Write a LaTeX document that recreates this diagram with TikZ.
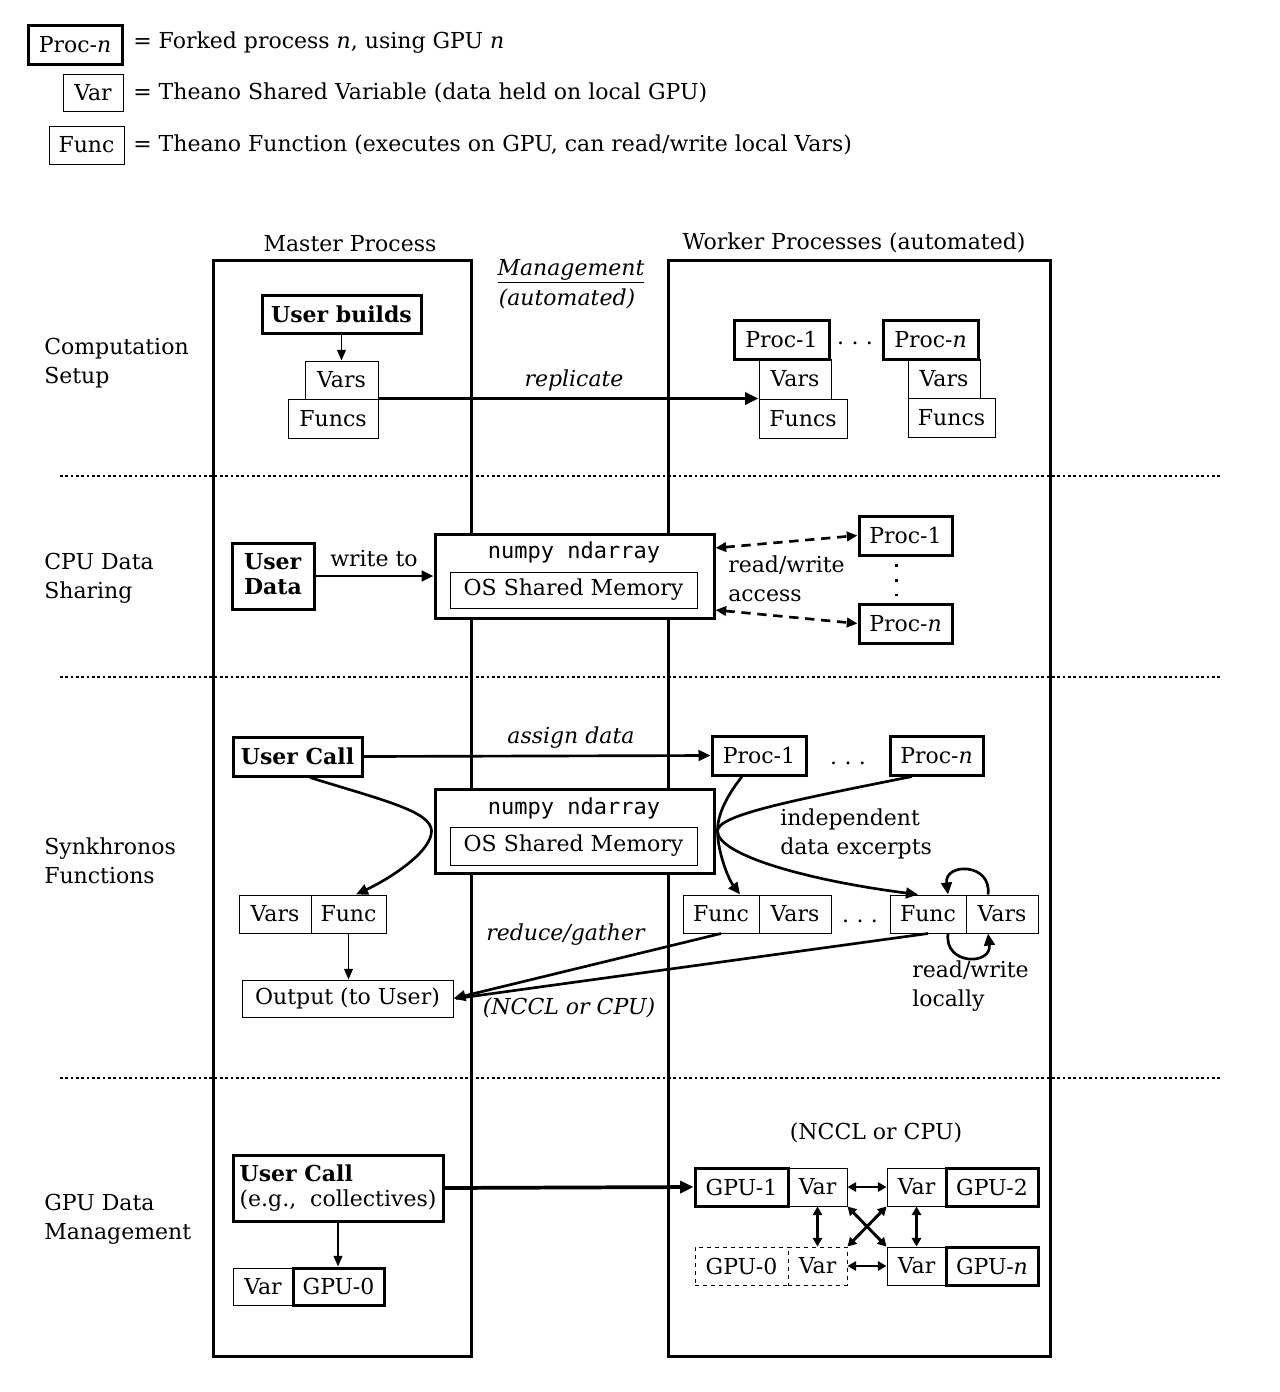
\documentclass[tikz,border=0pt]{standalone}
\usepackage{fontspec}
\setmainfont{DejaVu Serif}
\setmonofont{DejaVu Sans Mono}
\usetikzlibrary{arrows.meta,calc}
\newcommand\mybox[7]{\node[#6, minimum width={(#4-#2)*0.75pt}, minimum height={(#5-#3)*0.75pt}] (#1) at ({(#2+#4)/2},{(#3+#5)/2}) {#7};}
\newcommand\mydots{.\kern5.5pt.\kern5.5pt.}
\begin{document}
\begin{tikzpicture}[x=0.75pt,y=-0.75pt, font=\fontsize{16.5}{21.75}\selectfont,
 thinbox/.style={draw, fill=white, line width=0.75pt, inner sep=0pt},
 thickbox/.style={draw, fill=white, line width=2.25pt, inner sep=0pt},
 dashbox/.style={draw, fill=white, dashed, line width=0.75pt, inner sep=0pt},
 colbox/.style={draw, line width=2.25pt, inner sep=0pt},
 lbl/.style={inner sep=0pt, align=left},
 arr/.style={line width=2pt, -{Triangle[length=9pt,width=8pt]}},
 thinarr/.style={line width=1.4pt, -{Triangle[length=8pt,width=6.5pt]}},
 bigarr/.style={line width=2.8pt, -{Triangle[length=10pt,width=9pt]}},
 dasharr/.style={line width=2pt, dash pattern=on 7pt off 5pt, {Triangle[length=8pt,width=7pt]}-{Triangle[length=8pt,width=7pt]}},
 dblarr/.style={line width=2.2pt, {Triangle[length=6.5pt,width=7pt]}-{Triangle[length=6.5pt,width=7pt]}},
 sep/.style={dotted, line width=2pt}]
\useasboundingbox (0,0) rectangle (1280,1392);

% legend
\mybox{legp}{28}{25}{122}{64}{thickbox}{Proc-\textit{n}}
\node[lbl, anchor=west] (legpt) at (133,43) {= Forked process \textit{n}, using GPU \textit{n}};
\mybox{legv}{63}{74}{123}{111}{thinbox}{Var}
\node[lbl, anchor=west] (legvt) at (133,93) {= Theano Shared Variable (data held on local GPU)};
\mybox{legf}{49}{126}{124}{164}{thinbox}{Func}
\node[lbl, anchor=west] (legft) at (133,145) {= Theano Function (executes on GPU, can read/write local Vars)};

% columns
\mybox{master}{213}{260}{471}{1356}{colbox}{}
\mybox{worker}{668}{260}{1050}{1356}{colbox}{}
\node (mt) at (350,244) {Master Process};
\node (wt) at (854,243) {Worker Processes (automated)};
\node (mg) at (571,271) {\underline{\textit{Management}}};
\node (mg2) at (567,299) {\textit{(automated)}};

% separators
\draw[sep] (60,476) -- (1222,476);
\draw[sep] (60,677) -- (1222,677);
\draw[sep] (60,1078) -- (1222,1078);

% row labels
\node[lbl, anchor=west] (r1) at (44,363) {Computation\\Setup};
\node[lbl, anchor=west] (r2) at (44,578) {CPU Data\\Sharing};
\node[lbl, anchor=west] (r3) at (44,861) {Synkhronos\\Functions};
\node[lbl, anchor=west] (r4) at (44,1219) {GPU Data\\Management};

% ---------- row 1
\mybox{ub}{262}{295}{421}{333}{thickbox}{\textbf{User builds}}
\mybox{v1}{305}{361}{378}{399}{thinbox}{Vars}
\mybox{f1}{288}{399}{378}{438}{thinbox}{Funcs}
\draw[thinarr] (ub.south) -- (v1.north);
\mybox{wv1}{759}{359}{831}{399}{thinbox}{Vars}
\mybox{wf1}{759}{399}{847}{438}{thinbox}{Funcs}
\mybox{wp1}{734}{320}{829}{359}{thickbox}{Proc-1}
\mybox{wvn}{908}{359}{980}{398}{thinbox}{Vars}
\mybox{wfn}{908}{398}{995}{437}{thinbox}{Funcs}
\mybox{wpn}{883}{320}{978}{359}{thickbox}{Proc-\textit{n}}
\node[inner sep=0pt] (d1) at (855,343) {\mydots};
\draw[bigarr] (f1.north east) -- (wf1.north west);
\node (rep) at (574,380) {\textit{replicate}};

% ---------- row 2
\mybox{ud}{232}{543}{314}{609}{thickbox}{\begin{tabular}{@{}l@{}}\textbf{User}\\[-3pt]\textbf{Data}\end{tabular}}
\mybox{nd}{435}{534}{714}{618}{thickbox}{}
\node (ndt) at (574,552) {\texttt{numpy ndarray}};
\mybox{os}{450}{572}{697}{608}{thinbox}{OS Shared Memory}
\draw[arr] (ud.east) -- (nd.west);
\node (wto) at (374,559) {write to};
\mybox{cp1}{859}{516}{952}{555}{thickbox}{Proc-1}
\mybox{cpn}{859}{604}{952}{643}{thickbox}{Proc-\textit{n}}
\draw[line width=2.25pt, dash pattern=on 2.25pt off 9pt] ([xshift=-6.4pt,yshift=-5.5pt]cp1.south) -- ([xshift=-6.4pt,yshift=5pt]cpn.north);
\draw[dasharr] ([yshift=21pt]nd.east) -- (cp1.west);
\draw[dasharr] ([yshift=-25.5pt]nd.east) -- (cpn.west);
\node[lbl, anchor=west] (rwa) at (728,579) {read/write\\access};

% ---------- row 3
\mybox{uc}{233}{737}{362}{776}{thickbox}{\textbf{User Call}}
\mybox{sp1}{712}{736}{806}{775}{thickbox}{Proc-1}
\mybox{spn}{890}{736}{983}{775}{thickbox}{Proc-\textit{n}}
\node[inner sep=0pt] (d2) at (848,763) {\mydots};
\draw[arr] (uc.east) -- (sp1.west);
\node (asg) at (571,738) {\textit{assign data}};
\mybox{nd2}{435}{789}{714}{873}{thickbox}{}
\node (nd2t) at (574,808) {\texttt{numpy ndarray}};
\mybox{os2}{450}{827}{697}{865}{thinbox}{OS Shared Memory}
\mybox{lv}{239}{895}{311}{933}{thinbox}{Vars}
\mybox{lf}{311}{895}{386}{933}{thinbox}{Func}
\mybox{out}{242}{980}{453}{1017}{thinbox}{Output (to User)}
\draw[thinarr] (lf.south) -- (lf.south |- out.north);
\mybox{rf1}{683}{895}{759}{933}{thinbox}{Func}
\mybox{rv1}{759}{895}{831}{933}{thinbox}{Vars}
\node[inner sep=0pt] (d3) at (860,921) {\mydots};
\mybox{rf2}{890}{895}{966}{933}{thinbox}{Func}
\mybox{rv2}{966}{895}{1038}{933}{thinbox}{Vars}
% curves
\draw[arr] ([xshift=9.4pt]uc.south) .. controls +(70,22) and +(0,-20) .. ([xshift=-1.5pt]nd2.west)
  .. controls +(0,22) and +(30,-14) .. ([xshift=5.6pt]lf.north);
\draw[arr] ([xshift=-12.75pt]sp1.south) .. controls +(-14,18) and +(0,-18) .. ([xshift=1.5pt]nd2.east)
  .. controls +(0,20) and +(-12,-16) .. ([xshift=14.25pt]rf1.north);
\draw[arr] ([xshift=-18.4pt]spn.south) .. controls +(-120,24) and +(0,-16) .. ([xshift=1.5pt]nd2.east)
  .. controls +(0,24) and +(-110,-14) .. ([xshift=-7.5pt]rf2.north);
\node[lbl, anchor=west] (ide) at (780,834) {independent\\data excerpts};
\draw[arr] ([xshift=-10.5pt]rv2.north) .. controls +(4,-32) and +(-4,-32) .. ([xshift=15pt]rf2.north);
\draw[arr] ([xshift=15pt]rf2.south) .. controls +(-4,32) and +(4,32) .. ([xshift=-10.5pt]rv2.south);
\node[lbl, anchor=west] (rwl) at (912,986) {read/write\\locally};
\draw[line width=2pt] (rf2.south) -- ([xshift=2pt]out.east);
\draw[arr] (rf1.south) -- (out.east);
\node (rg) at (566,935) {\textit{reduce/gather}};
\node (nc1) at (569,1008) {\textit{(NCCL or CPU)}};

% ---------- row 4
\mybox{uc2}{233}{1155}{443}{1221}{thickbox}{\begin{tabular}{@{}l@{}}\textbf{User Call}\\[-3pt](e.g.,~ collectives)\end{tabular}}
\mybox{mv}{233}{1268}{293}{1305}{thinbox}{Var}
\mybox{mg0}{293}{1268}{384}{1305}{thickbox}{GPU-0}
\draw[thinarr] (uc2.south) -- (uc2.south |- mg0.north);
\node (nc2) at (876,1133) {(NCCL or CPU)};
\mybox{gv1}{788}{1168}{847}{1206}{thinbox}{Var}
\mybox{g1}{695}{1168}{788}{1206}{thickbox}{GPU-1}
\mybox{gv2}{887}{1168}{946}{1206}{thinbox}{Var}
\mybox{g2}{946}{1168}{1038}{1206}{thickbox}{GPU-2}
\mybox{g0}{695}{1247}{788}{1285}{dashbox}{GPU-0}
\mybox{gv0}{788}{1247}{847}{1285}{dashbox}{Var}
\mybox{gvn}{887}{1247}{946}{1285}{thinbox}{Var}
\mybox{gn}{946}{1247}{1038}{1285}{thickbox}{GPU-\textit{n}}
\draw[bigarr] (uc2.east) -- (g1.west);
\draw[dblarr] (gv1.east) -- (gv2.west);
\draw[dblarr] (gv0.east) -- (gvn.west);
\draw[dblarr] (gv1.south) -- (gv0.north);
\draw[dblarr] (gv2.south) -- (gvn.north);
\draw[dblarr] (gv1.south east) -- (gvn.north west);
\draw[dblarr] (gv2.south west) -- (gv0.north east);
\end{tikzpicture}
\end{document}
